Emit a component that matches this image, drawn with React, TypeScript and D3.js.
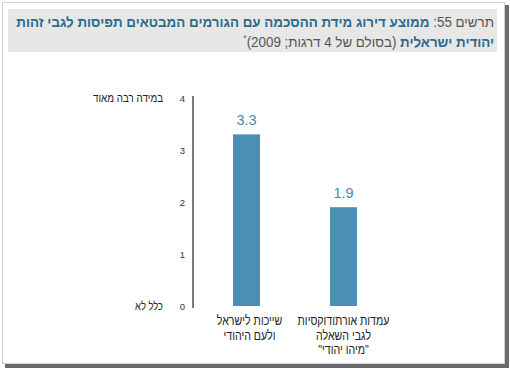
import React, { useEffect, useRef } from "react";
import * as d3 from "d3";

const categories = ["שייכות לישראל ולעם היהודי", "עמדות אורתודוקסיות לגבי השאלה \"מיהו יהודי\""];
const categoryLines = [
  ["שייכות לישראל", "ולעם היהודי"],
  ["עמדות אורתודוקסיות", "לגבי השאלה", "\"מיהו יהודי\""],
];
const values = [3.3, 1.9];
const tickValues = [0, 1, 2, 3, 4];
const scaleLabels = [
  { v: 4, label: "במידה רבה מאוד" },
  { v: 0, label: "כלל לא" },
];

const W = 510;
const H = 369;
const FONT = "'Liberation Sans', Arial, 'DejaVu Sans', sans-serif";
const BAR = "#4a8fb4";

// squeeze a text horizontally about its anchor so it spans the given width
function squeeze(node: SVGTextElement, x: number, y: number, width: number) {
  const w = node.getBBox().width || width;
  const k = Math.min(1, width / w);
  d3.select(node).attr("transform", `translate(${x},${y}) scale(${k},1)`);
  return k;
}

export default function App() {
  const ref = useRef<SVGSVGElement>(null);

  useEffect(() => {
    const svg = d3.select(ref.current);
    svg.selectAll("*").remove();

    // frame + shadow
    svg.append("rect").attr("x", 5).attr("y", 5).attr("width", W - 6).attr("height", H - 6).attr("fill", "#6a6a6a");
    svg.append("rect").attr("x", 2.5).attr("y", 2.5).attr("width", W - 8).attr("height", H - 8)
      .attr("fill", "#fff").attr("stroke", "#d0d0d0").attr("stroke-width", 1);

    // title box
    svg.append("rect").attr("x", 8).attr("y", 9).attr("width", 489).attr("height", 43).attr("fill", "#e7e7e6");

    const t1 = svg.append("text").attr("direction", "rtl")
      .attr("text-anchor", "start").attr("font-family", FONT).attr("font-size", 14);
    t1.append("tspan").attr("fill", "#555").text("תרשים 55: ");
    t1.append("tspan").attr("fill", "#2a6b8e").attr("font-weight", "bold")
      .text("ממוצע דירוג מידת ההסכמה עם הגורמים המבטאים תפיסות לגבי זהות");
    squeeze(t1.node() as SVGTextElement, 494, 27, 478);

    const t2 = svg.append("text").attr("direction", "rtl")
      .attr("text-anchor", "start").attr("font-family", FONT).attr("font-size", 14);
    t2.append("tspan").attr("fill", "#2a6b8e").attr("font-weight", "bold").text("יהודית ישראלית");
    t2.append("tspan").attr("fill", "#555").text(" (בסולם של 4 דרגות; 2009)");
    t2.append("tspan").attr("fill", "#555").attr("font-size", 9).attr("dy", -6).text("*");
    squeeze(t2.node() as SVGTextElement, 494, 47, 251);

    // scales
    const y = d3.scaleLinear().domain([0, 4]).range([306, 98]);
    const x = d3.scalePoint<string>().domain(categories).range([198, 392]).padding(0.5);

    // axis
    const yAxis = d3.axisLeft(y).tickValues(tickValues).tickSize(0).tickPadding(8).tickFormat(d3.format("d"));
    const gY = svg.append("g").attr("transform", "translate(193,0)").call(yAxis);
    gY.select(".domain").remove();
    gY.selectAll("text").attr("font-family", FONT).attr("font-size", 9.5).attr("fill", "#333");
    svg.append("line").attr("x1", 193).attr("x2", 193).attr("y1", y(4) - 2).attr("y2", y(0) + 2)
      .attr("stroke", "#7a7a7a").attr("stroke-width", 2);

    const scaleWidths = [70, 28];
    svg.selectAll(".scl").data(scaleLabels).enter().append("text")
      .attr("class", "scl").attr("dy", "0.35em")
      .attr("text-anchor", "end").attr("font-family", FONT).attr("font-size", 12).attr("fill", "#222")
      .text(d => d.label)
      .each(function (d, i) { squeeze(this as SVGTextElement, 163, y(d.v), scaleWidths[i]); });

    // bars
    const bw = 27;
    svg.selectAll(".bar").data(values).enter().append("rect")
      .attr("x", (d, i) => (x(categories[i]) as number) - bw / 2)
      .attr("y", d => y(d)).attr("width", bw).attr("height", d => y(0) - y(d)).attr("fill", BAR);

    svg.selectAll(".val").data(values).enter().append("text")
      .attr("x", (d, i) => x(categories[i]) as number).attr("y", d => y(d) - 9)
      .attr("text-anchor", "middle").attr("font-family", FONT).attr("font-size", 14.5).attr("fill", "#4a8ab2")
      .text(d => d3.format(".1f")(d));

    // category labels, compressed like the narrower original face
    const widest = svg.append("text").attr("font-family", FONT).attr("font-size", 13).attr("direction", "rtl")
      .text(categoryLines[1][0]);
    const k = 92 / ((widest.node() as SVGTextElement).getBBox().width || 92);
    widest.remove();
    categoryLines.forEach((lines, i) => {
      const cx = (x(categories[i]) as number) + (i === 0 ? 3 : 0);
      lines.forEach((ln, j) => {
        svg.append("text").attr("text-anchor", "middle")
          .attr("transform", `translate(${cx},${325 + j * 14.5}) scale(${k},1)`)
          .attr("direction", "rtl").attr("font-family", FONT).attr("font-size", 13).attr("fill", "#222")
          .text(ln);
      });
    });
  }, []);

  return (
    <svg ref={ref} width={W} height={H} style={{ position: "absolute", left: 0, top: 0 }} />
  );
}
